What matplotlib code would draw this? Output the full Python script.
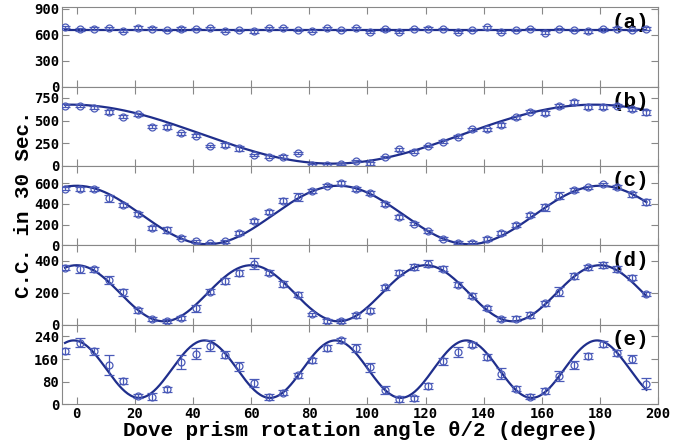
import numpy as np
import matplotlib.pyplot as plt

# rotation angle theta/2 of the Dove prism (degree)
angle = [-4, 1, 6, 11, 16, 21, 26, 31, 36, 41, 46, 51, 56, 61, 66, 71, 76, 81, 86, 91,
         96, 101, 106, 111, 116, 121, 126, 131, 136, 141, 146, 151, 156, 161, 166, 171,
         176, 181, 186, 191, 196]

# coincidence counts in 30 s, one list per panel
cc_a = [688, 661, 669, 680, 642, 676, 672, 650, 669, 665, 676, 646, 650, 646, 680, 676,
        653, 646, 676, 657, 676, 634, 661, 634, 669, 669, 665, 634, 653, 684, 634, 657,
        669, 623, 669, 657, 638, 661, 672, 657, 672]
cc_b = [662, 662, 640, 596, 541, 567, 431, 431, 359, 333, 220, 231, 194, 121, 102, 102,
        139, 11, 11, 22, 55, 29, 102, 183, 157, 220, 267, 322, 402, 402, 450, 534, 596,
        585, 662, 706, 651, 651, 662, 622, 589]
cc_c = [546, 546, 546, 456, 392, 302, 167, 151, 71, 38, 23, 38, 119, 231, 318, 433, 466,
        529, 577, 600, 546, 504, 401, 270, 209, 135, 64, 23, 23, 64, 119, 193, 295, 366,
        478, 536, 562, 591, 562, 495, 418]
cc_d = [357, 347, 347, 283, 202, 91, 34, 21, 42, 102, 208, 276, 325, 383, 325, 257, 187,
        64, 21, 23, 59, 87, 234, 325, 361, 383, 351, 251, 181, 106, 38, 38, 59, 134, 208,
        304, 361, 374, 351, 294, 193]
cc_e = [188, 218, 188, 138, 81, 28, 26, 52, 149, 179, 208, 175, 134, 75, 24, 41, 102, 155,
        199, 226, 199, 130, 49, 18, 20, 64, 152, 185, 211, 167, 108, 55, 26, 47, 99, 138,
        171, 214, 182, 161, 73]

err_a = [15, 15, 18, 15, 15, 20, 22, 12, 20, 15, 15, 12, 12, 25, 12, 15, 12, 12, 15, 12,
         15, 12, 12, 15, 12, 15, 15, 12, 12, 12, 15, 12, 12, 15, 12, 12, 15, 12, 12, 12, 12]
err_b = [18, 15, 15, 20, 15, 15, 18, 25, 15, 20, 12, 25, 25, 15, 18, 15, 12, 12, 12, 12,
         15, 18, 12, 15, 15, 15, 20, 15, 15, 15, 20, 15, 15, 25, 25, 25, 20, 25, 15, 20, 25]
err_c = [15, 20, 18, 35, 20, 20, 15, 30, 15, 12, 12, 15, 20, 20, 20, 20, 40, 20, 15, 20,
         20, 20, 20, 20, 15, 15, 15, 15, 15, 20, 20, 20, 20, 35, 35, 20, 15, 15, 20, 25, 30]
err_d = [15, 20, 15, 25, 20, 15, 12, 12, 15, 20, 15, 18, 20, 35, 15, 20, 15, 12, 12, 15,
         15, 15, 15, 15, 20, 20, 15, 15, 15, 12, 12, 15, 20, 15, 30, 20, 15, 18, 20, 15, 15]
err_e = [10, 15, 12, 35, 10, 8, 12, 10, 25, 20, 18, 12, 15, 15, 10, 10, 8, 10, 10, 10,
         15, 15, 15, 10, 10, 12, 12, 18, 10, 10, 20, 10, 8, 10, 18, 15, 10, 10, 10, 15, 18]

# fitted cosine curves: offset, amplitude, period (deg), phase (deg)
fit_a = (655, 0, 180, 0)
fit_b = (350, 325, 180, -2)
fit_c = (293, 283, 90, 0)
fit_d = (197, 176, 60, 0)
fit_e = (124, 102, 45, -1)

panels = [
    ("(a)", cc_a, err_a, fit_a, 920, [0, 300, 600, 900]),
    ("(b)", cc_b, err_b, fit_b, 875, [0, 250, 500, 750]),
    ("(c)", cc_c, err_c, fit_c, 768, [0, 200, 400, 600]),
    ("(d)", cc_d, err_d, fit_d, 498, [0, 200, 400]),
    ("(e)", cc_e, err_e, fit_e, 282, [0, 80, 160, 240]),
]

pt_color = "#4a5ab8"
line_color = "#1f2e8c"
tick_font = {"family": "DejaVu Sans Mono", "weight": "bold", "size": 10}
label_font = {"family": "Liberation Mono", "weight": "bold", "size": 15}

fig, axes = plt.subplots(5, 1, figsize=(6.75, 4.45), dpi=100, sharex=True)
plt.subplots_adjust(left=0.092, right=0.975, top=0.984, bottom=0.092, hspace=0)

xf = np.linspace(-4, 196, 400)
for ax, (tag, y, e, fit, ytop, yt) in zip(axes, panels):
    off, amp, per, ph = fit
    ax.plot(xf, off + amp * np.cos(2 * np.pi * (xf - ph) / per), color=line_color, lw=1.6, zorder=3)
    ax.errorbar(angle, y, yerr=e, fmt="o", mfc="none", mec=pt_color, ecolor=pt_color,
                ms=5, mew=0.9, elinewidth=0.9, capsize=3.5, capthick=0.9, zorder=4)
    ax.set_ylim(0, ytop)
    ax.set_yticks(yt)
    ax.set_xlim(-5, 200)
    ax.set_xticks(range(0, 201, 20))
    ax.tick_params(direction="in", length=5, color="#888888", top=True, right=True, pad=2)
    for s in ax.spines.values():
        s.set_color("#888888")
    for lab in ax.get_yticklabels() + ax.get_xticklabels():
        lab.set_fontfamily(tick_font["family"])
        lab.set_fontweight(tick_font["weight"])
        lab.set_fontsize(tick_font["size"])
    ax.text(0.985, 0.93, tag, transform=ax.transAxes, ha="right", va="top",
            fontdict=label_font)

axes[-1].set_xlabel("Dove prism rotation angle \u03b8/2 (degree)", fontdict=label_font, labelpad=0)
fig.text(0.035, 0.54, "C.C. in 30 Sec.", rotation=90, ha="center", va="center", fontdict=label_font)

fig.savefig("out.png", dpi=100)
